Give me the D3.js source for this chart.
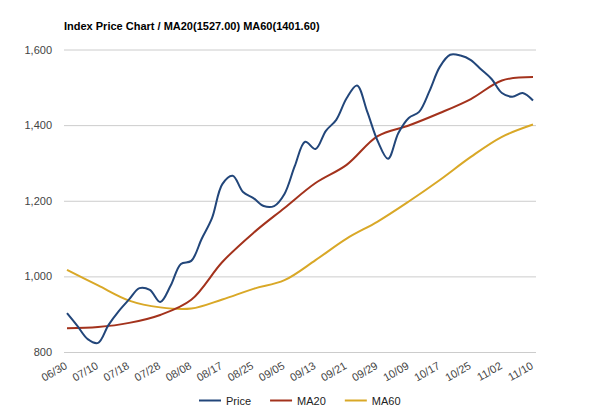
<!DOCTYPE html>
<html>
<head>
<meta charset="utf-8">
<script src="https://cdn.jsdelivr.net/npm/d3@7"></script>
<style>
  body { margin: 0; background: #fff; }
  text { font-family: "Liberation Sans", Arial, sans-serif; }
</style>
</head>
<body>
<div id="chart"></div>
<script>
// 1: DATA
// x positions are trading-day indices (0..90); labels every 6th day
const dateLabels = ["06/30", "07/10", "07/18", "07/28", "08/08", "08/17", "08/25", "09/05",
                    "09/13", "09/21", "09/29", "10/09", "10/17", "10/25", "11/02", "11/10"];
const labelStep = 6;

// price sampled every 2nd day
const priceStep = 2;
const priceValues = [903, 869, 834, 824, 871, 908, 939, 969, 964, 932,
                     975, 1033, 1041, 1099, 1154, 1244, 1266, 1223, 1207, 1186,
                     1186, 1218, 1292, 1356, 1337, 1385, 1414, 1471, 1505, 1435,
                     1358, 1311, 1379, 1419, 1435, 1490, 1554, 1586, 1584, 1572,
                     1547, 1522, 1485, 1475, 1485, 1465];

// moving averages sampled at each labelled day
const ma20Values = [863, 866, 877, 898, 938, 1038, 1115, 1181, 1247, 1295, 1371, 1399, 1432, 1469, 1518, 1527];
const ma60Values = [1017, 976, 936, 918, 915, 939, 967, 990, 1043, 1100, 1145, 1198, 1255, 1316, 1369, 1401.6];

const yTicks = [800, 1000, 1200, 1400, 1600];
const seriesNames = ["Price", "MA20", "MA60"];
const seriesColors = ["#22467a", "#a3321c", "#d9a827"];

// 2: LAYOUT
const W = 600, H = 414;
const plot = { left: 64, right: 536, top: 49.5, bottom: 352 };
const lineX0 = 67, lineX1 = 533;
const lastIndex = (dateLabels.length - 1) * labelStep;

const svg = d3.select("#chart").append("svg")
  .attr("width", W).attr("height", H);

// 3: SCALES
const x = d3.scaleLinear().domain([0, lastIndex]).range([lineX0, lineX1]);
const y = d3.scaleLinear().domain([800, 1600]).range([plot.bottom, plot.top]);

// gridlines + y labels
const yAxis = svg.append("g")
  .attr("transform", `translate(${plot.left},0)`)
  .call(d3.axisLeft(y).tickValues(yTicks)
    .tickSize(-(plot.right - plot.left))
    .tickPadding(12)
    .tickFormat(d3.format(",")));
yAxis.select(".domain").remove();
yAxis.selectAll(".tick line").attr("stroke", "#cccccc");
yAxis.selectAll(".tick text")
  .attr("fill", "#444").style("font-size", "11px");

// x labels (rotated)
svg.append("g").selectAll("text")
  .data(dateLabels)
  .join("text")
  .attr("transform", (d, i) => `translate(${x(i * labelStep) + 1},368) rotate(-30)`)
  .attr("text-anchor", "end")
  .attr("fill", "#444")
  .style("font-size", "11px")
  .text(d => d);

// 4: LINES
const priceData = priceValues.map((v, i) => ({ t: i * priceStep, v }));
const ma20Data = ma20Values.map((v, i) => ({ t: i * labelStep, v }));
const ma60Data = ma60Values.map((v, i) => ({ t: i * labelStep, v }));

const line = d3.line()
  .x(d => x(d.t))
  .y(d => y(d.v))
  .curve(d3.curveCatmullRom.alpha(0.5));

[ma60Data, ma20Data, priceData].forEach((data, k) => {
  const idx = 2 - k;
  svg.append("path")
    .datum(data)
    .attr("d", line)
    .attr("fill", "none")
    .attr("stroke", seriesColors[idx])
    .attr("stroke-width", 2)
    .attr("stroke-linejoin", "round");
});

// 5: TITLE
svg.append("text")
  .attr("x", 64).attr("y", 30)
  .style("font-size", "11px")
  .style("font-weight", "bold")
  .attr("fill", "#000")
  .text(`Index Price Chart / MA20(${ma20Values[ma20Values.length - 1].toFixed(2)}) MA60(${ma60Values[ma60Values.length - 1].toFixed(2)})`);

// 6: LEGEND
let lx = 199;
const legendY = 400.5;
seriesNames.forEach((name, i) => {
  const g = svg.append("g");
  g.append("line")
    .attr("x1", lx).attr("x2", lx + 22)
    .attr("y1", legendY).attr("y2", legendY)
    .attr("stroke", seriesColors[i]).attr("stroke-width", 2);
  const t = g.append("text")
    .attr("x", lx + 27).attr("y", legendY + 4)
    .attr("fill", "#222")
    .style("font-size", "11px")
    .text(name);
  lx += 27 + t.node().getComputedTextLength() + 19;
});
</script>
</body>
</html>
